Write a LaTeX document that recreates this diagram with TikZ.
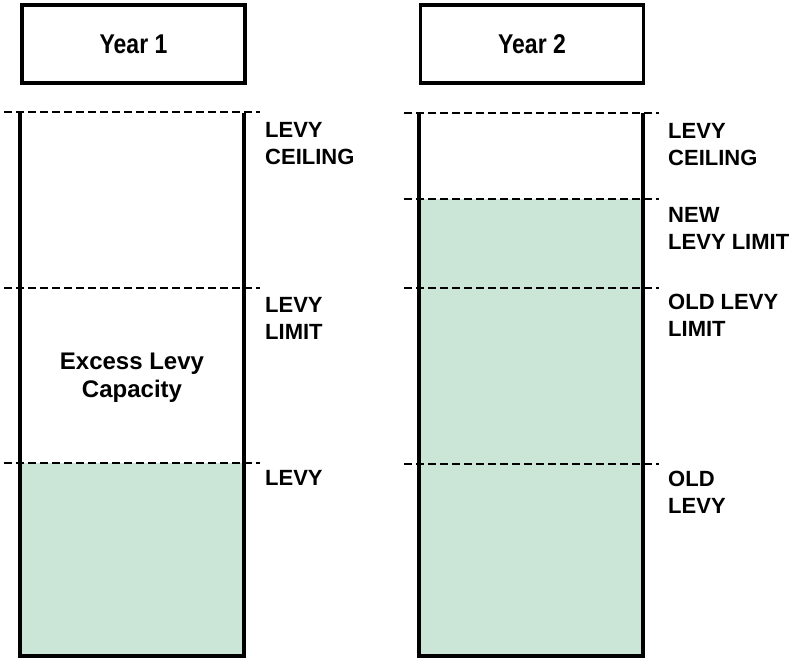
\documentclass[tikz,border=0pt]{standalone}
\usepackage{fontspec}
\setmainfont{Liberation Sans}
\usetikzlibrary{positioning}
\definecolor{levygreen}{RGB}{203,230,214}
\tikzset{
    year_box/.style = {draw=black, line width=3.4pt, minimum width=223pt, minimum height=78pt, inner sep=0pt, font=\fontsize{23}{27}\selectfont\bfseries},
    col_side/.style = {draw=black, line width=3.2pt},
    level_line/.style = {draw=black, line width=2.8pt, dash pattern=on 8pt off 4pt},
    lbl/.style = {anchor=north west, align=left, inner sep=0pt, font=\fontsize{22}{27}\selectfont\bfseries},
    mid_text/.style = {align=center, inner sep=0pt, font=\fontsize{24}{28}\selectfont\bfseries}
}

\begin{document}
\begin{tikzpicture}[x=1pt, y=-1pt]
    \useasboundingbox (0,0) rectangle (794,658);

    % headers
    \node [year_box] (year1) at (133.5,44) {\scalebox{1}[1.18]{Year 1}};
    \node [year_box] (year2) at (532,44) {\scalebox{1}[1.18]{Year 2}};

    % year 1 column
    \coordinate (c1tl) at (20,113);
    \coordinate (c1bl) at (20,656);
    \coordinate (c1br) at (244,656);
    \coordinate (c1tr) at (244,113);
    \fill [levygreen] (20,463) rectangle (c1br);
    \draw [col_side] (c1tl) -- (c1bl) -- (c1br) -- (c1tr);
    \foreach \y in {112,288,463}
        \draw [level_line] (4,\y) -- (260,\y);

    \node [mid_text] (excess) at (132,378) {Excess Levy\\Capacity};
    \node [lbl] (ceil1) at (265,122) {LEVY\\CEILING};
    \node [lbl] (limit1) at (265,297) {LEVY\\LIMIT};
    \node [lbl] (levy1) at (265,470) {LEVY};

    % year 2 column
    \coordinate (c2tl) at (419,113);
    \coordinate (c2bl) at (419,656);
    \coordinate (c2br) at (643,656);
    \coordinate (c2tr) at (643,113);
    \fill [levygreen] (419,199) rectangle (c2br);
    \draw [col_side] (c2tl) -- (c2bl) -- (c2br) -- (c2tr);
    \foreach \y in {113,199,288,464}
        \draw [level_line] (404,\y) -- (659,\y);

    \node [lbl] (ceil2) at (668,123) {LEVY\\CEILING};
    \node [lbl] (newlim) at (668,207) {NEW\\LEVY LIMIT};
    \node [lbl] (oldlim) at (668,294) {OLD LEVY\\LIMIT};
    \node [lbl] (oldlevy) at (668,471) {OLD\\LEVY};
\end{tikzpicture}
\end{document}
